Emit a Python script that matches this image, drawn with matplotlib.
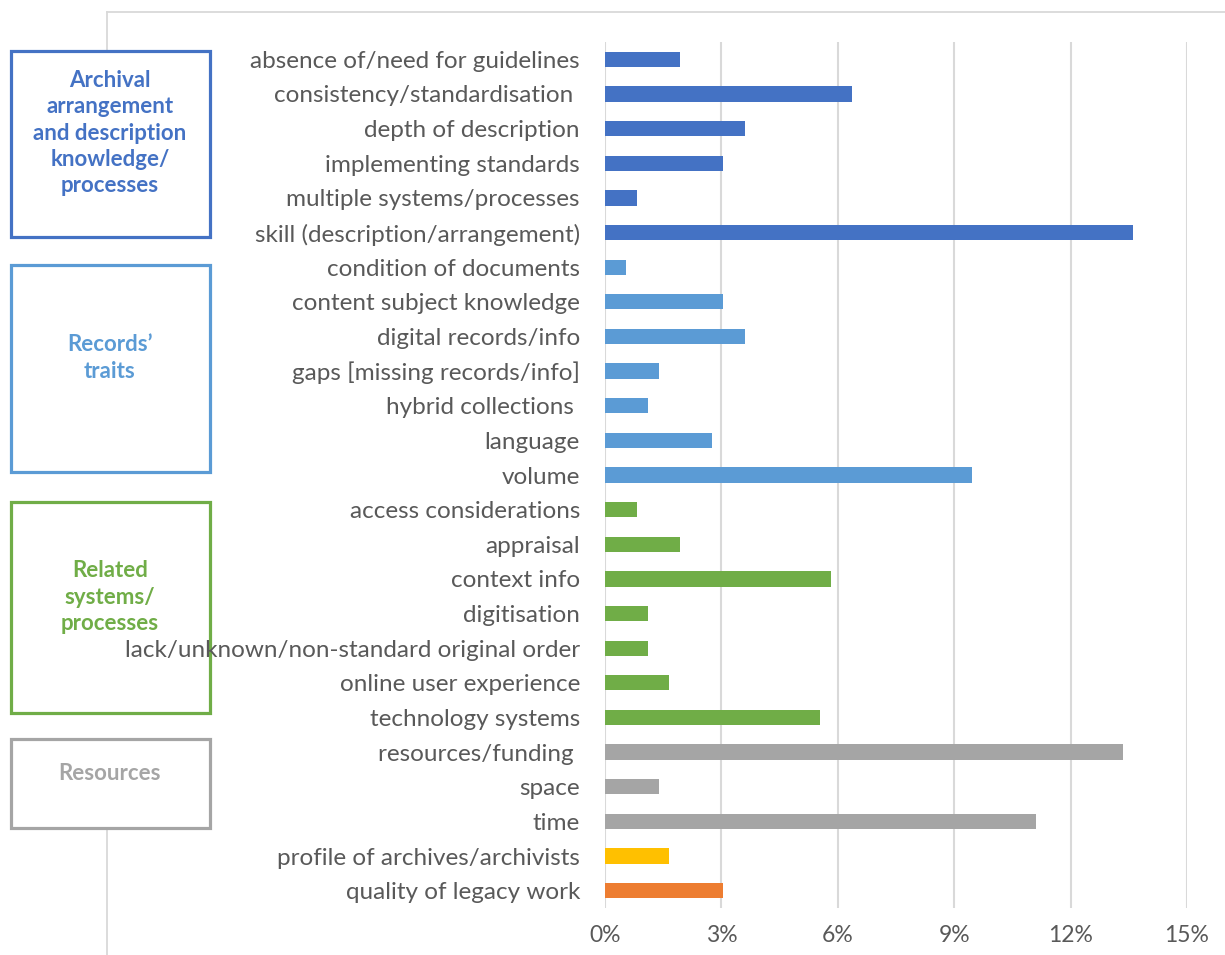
import matplotlib
matplotlib.use("Agg")
import matplotlib.pyplot as plt
from matplotlib.patches import Rectangle
from matplotlib.lines import Line2D

plt.rcParams['font.family'] = ['Lato', 'DejaVu Sans']

categories = [
    "absence of/need for guidelines",
    "consistency/standardisation ",
    "depth of description",
    "implementing standards",
    "multiple systems/processes",
    "skill (description/arrangement)",
    "condition of documents",
    "content subject knowledge",
    "digital records/info",
    "gaps [missing records/info]",
    "hybrid collections ",
    "language",
    "volume",
    "access considerations",
    "appraisal",
    "context info",
    "digitisation",
    "lack/unknown/non-standard original order",
    "online user experience",
    "technology systems",
    "resources/funding ",
    "space",
    "time",
    "profile of archives/archivists",
    "quality of legacy work",
]
values = [1.93, 6.37, 3.60, 3.04, 0.82, 13.60, 0.55, 3.04, 3.60, 1.38, 1.10, 2.76,
          9.46, 0.82, 1.93, 5.82, 1.10, 1.10, 1.65, 5.54, 13.35, 1.38, 11.10, 1.65, 3.04]
groups = ["archival"] * 6 + ["records"] * 7 + ["related"] * 7 + ["resources"] * 3 + ["profile", "legacy"]
x_ticks = [0, 3, 6, 9, 12, 15]
x_tick_labels = ["0%", "3%", "6%", "9%", "12%", "15%"]

group_colors = {
    "archival": "#4472C4",
    "records": "#5B9BD5",
    "related": "#70AD47",
    "resources": "#A5A5A5",
    "profile": "#FFC000",
    "legacy": "#ED7D31",
}
box_titles = {
    "archival": "Archival\narrangement\nand description\nknowledge/\nprocesses",
    "records": "Records\u2019\ntraits",
    "related": "Related\nsystems/\nprocesses",
    "resources": "Resources",
}

W, H = 1225, 955
fig = plt.figure(figsize=(W / 100, H / 100), dpi=100)
ax = fig.add_axes([605 / W, 1 - 908 / H, (1187 - 605) / W, (908 - 42) / H])
ax.set_zorder(2)
ax.patch.set_alpha(0)

ypos = list(range(len(categories)))
ax.barh(ypos, values, height=0.44, color=[group_colors[g] for g in groups], zorder=3)
ax.set_ylim(len(categories) - 0.5, -0.5)
ax.set_xlim(0, 15)
ax.set_yticks(ypos)
ax.set_yticklabels(categories, fontsize=17.5, color="#595959")
ax.set_xticks(x_ticks)
ax.set_xticklabels(x_tick_labels, fontsize=16.5, color="#595959")
ax.tick_params(axis="y", length=0, pad=18)
ax.tick_params(axis="x", length=0, pad=12)
for s in ax.spines.values():
    s.set_visible(False)
ax.grid(axis="x", color="#D9D9D9", linewidth=1.5, zorder=0)
ax.set_axisbelow(True)

# frame lines (chart area border)
fig.add_artist(Line2D([107 / W, 1.0], [1 - 12 / H, 1 - 12 / H], color="#D9D9D9", lw=1.3,
                      transform=fig.transFigure, zorder=0))
fig.add_artist(Line2D([107 / W, 107 / W], [1 - 12 / H, 1 - 51 / H], color="#D9D9D9", lw=1.3,
                      transform=fig.transFigure, zorder=0))
fig.add_artist(Line2D([107 / W, 107 / W], [1 - 828 / H, 0.0], color="#D9D9D9", lw=1.3,
                      transform=fig.transFigure, zorder=0))

# group boxes
boxes = [("archival", 51, 237), ("records", 265, 472), ("related", 502, 713), ("resources", 739, 828)]
text_centers = {"archival": 133, "records": 358, "related": 597, "resources": 773}
for key, top, bot in boxes:
    rect = Rectangle((11 / W, 1 - bot / H), (210 - 11) / W, (bot - top) / H,
                     transform=fig.transFigure, facecolor="white",
                     edgecolor=group_colors[key], linewidth=2.3, zorder=1)
    fig.add_artist(rect)
    fig.text(110 / W, 1 - text_centers[key] / H, box_titles[key], ha="center", va="center",
             fontsize=16, fontweight="bold", color=group_colors[key],
             linespacing=1.3, zorder=1.5)

fig.savefig("out.png", dpi=100, facecolor="white")
